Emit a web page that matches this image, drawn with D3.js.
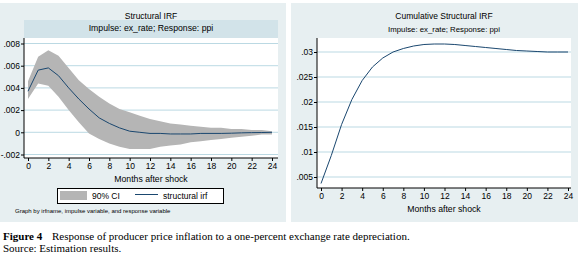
<!DOCTYPE html>
<html>
<head>
<meta charset="utf-8">
<script src="https://cdn.jsdelivr.net/npm/d3@7"></script>
<style>
  body { margin: 0; background: #fff; }
  svg { display: block; font-family: "Liberation Sans", Arial, sans-serif; }
  .tick text { font-size: 8.5px; fill: #000; }
  .tick line { stroke: #000; }
</style>
</head>
<body>
<script>
// months after shock
var months = d3.range(0, 25);

// structural irf and 90% CI (left panel)
var irf = [0.0037, 0.0056, 0.0058, 0.0051, 0.0040, 0.0030, 0.0021, 0.0013, 0.0008, 0.0004,
  0.0001, 0.0000, -0.0001, -0.0001, -0.00015, -0.00015, -0.00015, -0.0001, -0.0001, -0.0001,
  -0.00008, -0.00005, -0.00003, -0.00002, 0.0000];
var ciUpper = [0.0046, 0.0068, 0.0074, 0.0069, 0.0058, 0.0047, 0.0039, 0.0032, 0.0026, 0.0021,
  0.0018, 0.0015, 0.0012, 0.0010, 0.0008, 0.0007, 0.0006, 0.0005, 0.0004, 0.0004,
  0.0003, 0.0003, 0.0002, 0.0002, 0.0001];
var ciLower = [0.0030, 0.0044, 0.0042, 0.0032, 0.0020, 0.0009, -0.0001, -0.0006, -0.0010, -0.0013,
  -0.0015, -0.0015, -0.0015, -0.0013, -0.0012, -0.0011, -0.0009, -0.0008, -0.0007, -0.0006,
  -0.0005, -0.0004, -0.0003, -0.0002, -0.0002];

// cumulative structural irf (right panel)
var cirf = [0.0037, 0.0093, 0.0155, 0.0205, 0.0243, 0.0270, 0.0288, 0.0300, 0.0307, 0.0312,
  0.0315, 0.0316, 0.0316, 0.0315, 0.0313, 0.0311, 0.0309, 0.0307, 0.0305, 0.0303,
  0.0302, 0.0301, 0.0300, 0.0300, 0.0300];

// tick values / labels
var xTicks = [0, 2, 4, 6, 8, 10, 12, 14, 16, 18, 20, 22, 24];
var yTicksL = [-0.002, 0, 0.002, 0.004, 0.006, 0.008];
var yLabelsL = ["-.002", "0", ".002", ".004", ".006", ".008"];
var yTicksR = [0.005, 0.01, 0.015, 0.02, 0.025, 0.03];
var yLabelsR = [".005", ".01", ".015", ".02", ".025", ".03"];

var navy = "#1a476f",
  bg = "#e7eff1",
  strip = "#d2e3e9",
  grid = "#a9cfdc";

var svg = d3.select("body").append("svg").attr("width", 580).attr("height", 263);

// draw one panel
function panel(opt) {
  var g = svg.append("g");
  g.append("rect").attr("x", opt.px0).attr("y", 3).attr("width", opt.px1 - opt.px0)
    .attr("height", 219).attr("fill", bg);

  if (opt.strip) {
    g.append("rect").attr("x", opt.x0).attr("y", 20).attr("width", opt.x1 - opt.x0)
      .attr("height", 18).attr("fill", strip);
  }
  g.append("text").attr("x", (opt.x0 + opt.x1) / 2).attr("y", 19)
    .attr("text-anchor", "middle").style("font-size", "8.5px").text(opt.title);
  g.append("text").attr("x", (opt.x0 + opt.x1) / 2).attr("y", opt.subY)
    .attr("text-anchor", "middle").style("font-size", opt.subSize).text("Impulse: ex_rate; Response: ppi");

  // plot region
  g.append("rect").attr("x", opt.x0).attr("y", 38).attr("width", opt.x1 - opt.x0)
    .attr("height", opt.yb - 38).attr("fill", "#fff");

  var x = d3.scaleLinear().domain([0, 24]).range(opt.xr);
  var y = d3.scaleLinear().domain(opt.yd).range(opt.yr);

  // gridlines
  g.selectAll(null).data(opt.yt).enter().append("line")
    .attr("x1", opt.x0).attr("x2", opt.x1)
    .attr("y1", function (d) { return y(d); }).attr("y2", function (d) { return y(d); })
    .attr("stroke", grid).attr("stroke-width", 0.8);

  if (opt.hi) {
    var area = d3.area()
      .x(function (d, i) { return x(months[i]); })
      .y0(function (d, i) { return y(opt.lo[i]); })
      .y1(function (d) { return y(d); });
    g.append("path").attr("d", area(opt.hi)).attr("fill", "#b5b5b5");
  }

  var line = d3.line()
    .x(function (d, i) { return x(months[i]); })
    .y(function (d) { return y(d); });
  g.append("path").attr("d", line(opt.vals)).attr("fill", "none")
    .attr("stroke", navy).attr("stroke-width", 1);

  // axes
  var ya = g.append("g").attr("transform", "translate(" + opt.x0 + ",0)")
    .call(d3.axisLeft(y).tickValues(opt.yt)
      .tickFormat(function (d, i) { return opt.yl[i]; })
      .tickSize(3).tickPadding(1));
  ya.select(".domain").remove();
  var xa = g.append("g").attr("transform", "translate(0," + opt.yb + ")")
    .call(d3.axisBottom(x).tickValues(xTicks).tickSize(3).tickPadding(2));
  xa.select(".domain").remove();
  g.append("line").attr("x1", opt.x0).attr("x2", opt.x0).attr("y1", 38).attr("y2", opt.yb)
    .attr("stroke", "#000");
  g.append("line").attr("x1", opt.x0).attr("x2", opt.x1).attr("y1", opt.yb).attr("y2", opt.yb)
    .attr("stroke", "#000");

  g.append("text").attr("x", (opt.x0 + opt.x1) / 2).attr("y", opt.yb + 24)
    .attr("text-anchor", "middle").style("font-size", "8.7px").text("Months after shock");
  return g;
}

var left = panel({
  px0: 0, px1: 286, x0: 24, x1: 278, yb: 158, strip: true,
  title: "Structural IRF", subY: 31, subSize: "8.7px",
  xr: [28, 272], yd: [-0.002, 0.008], yr: [154.5, 43.5],
  yt: yTicksL, yl: yLabelsL, vals: irf, hi: ciUpper, lo: ciLower
});

panel({
  px0: 291, px1: 578, x0: 317, x1: 571, yb: 188, strip: false,
  title: "Cumulative Structural IRF", subY: 32, subSize: "7.8px",
  xr: [321, 568], yd: [0.005, 0.03], yr: [177, 52],
  yt: yTicksR, yl: yLabelsR, vals: cirf
});

// legend
var lg = left.append("g");
lg.append("rect").attr("x", 57.5).attr("y", 188.5).attr("width", 166).attr("height", 15)
  .attr("fill", "#fff").attr("stroke", "#000").attr("stroke-width", 1);
lg.append("rect").attr("x", 60).attr("y", 191).attr("width", 27).attr("height", 9).attr("fill", "#b5b5b5");
lg.append("text").attr("x", 92).attr("y", 198.5).style("font-size", "8.5px").text("90% CI");
lg.append("line").attr("x1", 135).attr("x2", 158).attr("y1", 194.5).attr("y2", 194.5)
  .attr("stroke", navy).attr("stroke-width", 1);
lg.append("text").attr("x", 163).attr("y", 198.5).style("font-size", "8.5px").text("structural irf");

left.append("text").attr("x", 15).attr("y", 213).style("font-size", "6px")
  .text("Graph by irfname, impulse variable, and response variable");

// caption
var cap = svg.append("text").attr("x", 3).attr("y", 240)
  .style("font-family", "'Liberation Serif', serif").style("font-size", "11px");
cap.append("tspan").style("font-weight", "bold").text("Figure 4");
cap.append("tspan").attr("x", 52).text("Response of producer price inflation to a one-percent exchange rate depreciation.");
svg.append("text").attr("x", 3).attr("y", 252)
  .style("font-family", "'Liberation Serif', serif").style("font-size", "11px")
  .text("Source: Estimation results.");
</script>
</body>
</html>
